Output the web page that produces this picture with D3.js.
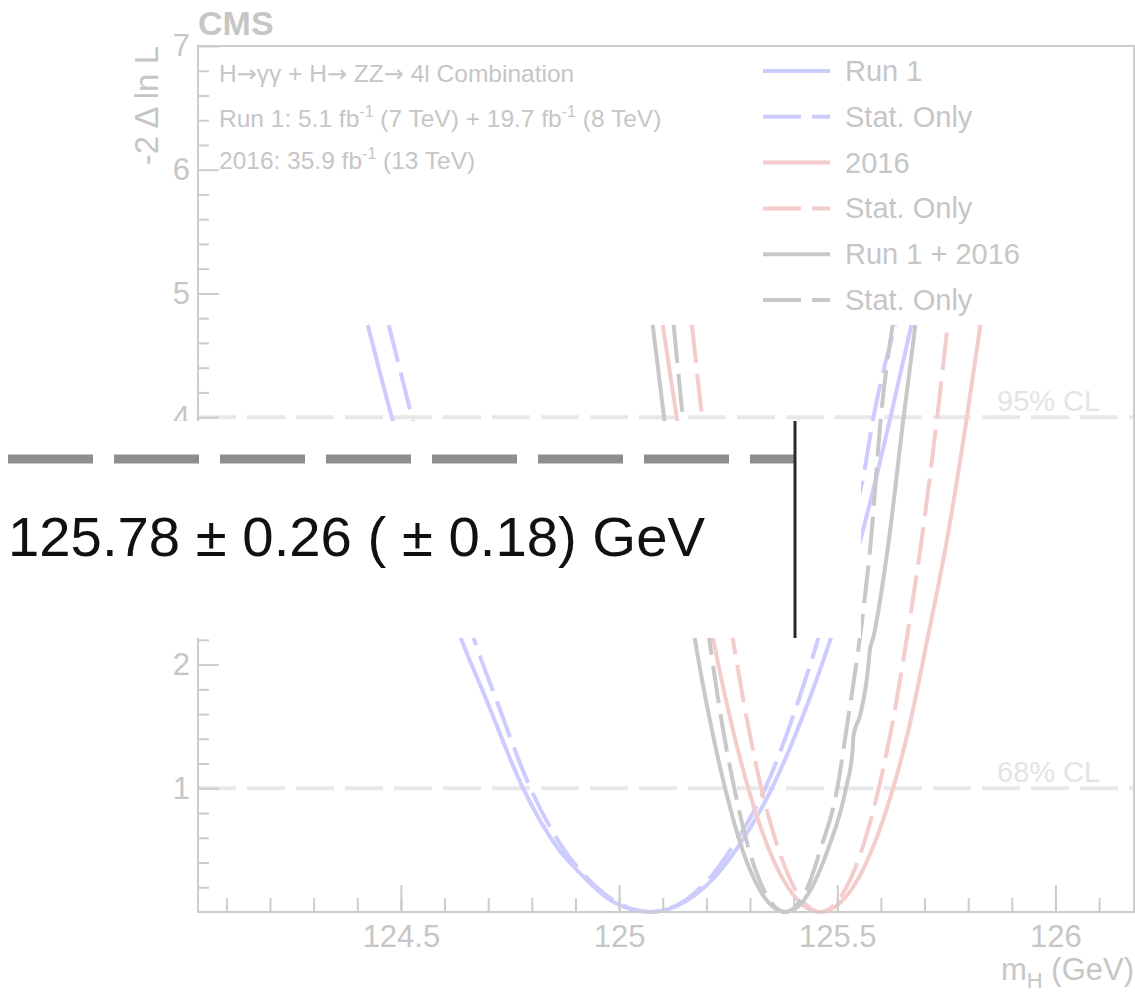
<!DOCTYPE html>
<html>
<head>
<meta charset="utf-8">
<title>mH likelihood scan</title>
<script src="https://d3js.org/d3.v7.min.js"></script>
<style>
  body { margin: 0; background: #fff; }
  svg { font-family: 'Liberation Sans', Arial, sans-serif; }
</style>
</head>
<body>
<svg width="1135" height="994"></svg>
<script>
// likelihood scans: [mH (GeV), -2 Delta ln L]
var run1 = [
  [124.424, 4.745], [124.479, 4.0], [124.564, 3.0], [124.639, 2.2], [124.693, 1.74],
  [124.780, 1.0], [124.857, 0.528], [124.926, 0.259], [124.978, 0.1], [125.025, 0.025],
  [125.071, 0], [125.115, 0.025], [125.159, 0.1], [125.213, 0.259], [125.273, 0.528],
  [125.350, 1.0], [125.438, 1.74], [125.484, 2.2], [125.557, 3.06], [125.622, 4.0], [125.670, 4.745]
];
var run1Stat = [
  [124.472, 4.745], [124.525, 4.0], [124.596, 3.0], [124.672, 2.158], [124.716, 1.74],
  [124.797, 1.0], [124.869, 0.528], [124.931, 0.259], [124.985, 0.1], [125.029, 0.025],
  [125.072, 0], [125.113, 0.025], [125.154, 0.1], [125.204, 0.259], [125.260, 0.528],
  [125.335, 1.0], [125.414, 1.74], [125.453, 2.17], [125.520, 3.0], [125.557, 3.47],
  [125.583, 4.0], [125.633, 4.745]
];
var y2016 = [
  [125.100, 4.745], [125.132, 4.0], [125.175, 3.0], [125.216, 2.2], [125.259, 1.5],
  [125.296, 1.0], [125.344, 0.5], [125.387, 0.2], [125.424, 0.05], [125.461, 0],
  [125.498, 0.05], [125.536, 0.2], [125.579, 0.5], [125.628, 1.0], [125.665, 1.5],
  [125.707, 2.213], [125.751, 3.0], [125.797, 4.0], [125.828, 4.745]
];
var y2016Stat = [
  [125.167, 4.745], [125.190, 4.0], [125.227, 3.0], [125.261, 2.2], [125.296, 1.5],
  [125.326, 1.0], [125.366, 0.5], [125.401, 0.2], [125.431, 0.05], [125.461, 0],
  [125.491, 0.05], [125.521, 0.2], [125.556, 0.5], [125.595, 1.0], [125.625, 1.5],
  [125.660, 2.226], [125.693, 3.0], [125.729, 4.0], [125.753, 4.745]
];
var comb = [
  [125.077, 4.745], [125.103, 4.0], [125.140, 3.0], [125.174, 2.2], [125.211, 1.5],
  [125.243, 1.0], [125.283, 0.5], [125.319, 0.2], [125.350, 0.05], [125.381, 0],
  [125.412, 0.05], [125.442, 0.2], [125.478, 0.5], [125.520, 1.0], [125.535, 1.3],
  [125.537, 1.42], [125.553, 1.6], [125.572, 2.02], [125.574, 2.1], [125.583, 2.226],
  [125.618, 3.0], [125.652, 4.0], [125.679, 4.745]
];
var combStat = [
  [125.125, 4.745], [125.146, 4.0], [125.178, 3.0], [125.207, 2.2], [125.237, 1.5],
  [125.264, 1.0], [125.298, 0.5], [125.329, 0.2], [125.355, 0.05], [125.381, 0],
  [125.406, 0.05], [125.432, 0.2], [125.461, 0.5], [125.500, 1.0], [125.522, 1.5],
  [125.557, 2.36], [125.577, 3.0], [125.600, 4.0], [125.627, 4.745]
];

var seriesNames = ["Run 1", "Stat. Only", "2016", "Stat. Only", "Run 1 + 2016", "Stat. Only"];
var xTicks = [124.5, 125, 125.5, 126];
var yTicks = [1, 2, 4, 5, 6, 7];   // 3 sits under the result inset
var clLevels = [1, 4];
var clNames = ["68% CL", "95% CL"];
var result = "125.78 \u00b1 0.26 ( \u00b1 0.18) GeV";

var svg = d3.select("svg");
var frameL = 198, frameR = 1134, frameT = 46, frameB = 912;

var x = d3.scaleLinear().domain([124.035, 126.18]).range([frameL, frameR]);
var y = d3.scaleLinear().domain([0, 7]).range([frameB, frameT]);

var axisCol = "#cccccc", textCol = "#c6c6c6";

// confidence level lines
clLevels.forEach(function (v, i) {
  svg.append("line")
    .attr("x1", frameL).attr("x2", frameR)
    .attr("y1", y(v)).attr("y2", y(v))
    .attr("stroke", "#e8e8e8").attr("stroke-width", 4)
    .attr("stroke-dasharray", "38,11");
  svg.append("text")
    .attr("x", 997).attr("y", y(v) - 6)
    .attr("font-size", 29).attr("fill", "#e4e4e4")
    .text(clNames[i]);
});

// scan curves
var line = d3.line()
  .x(function (d) { return x(d[0]); })
  .y(function (d) { return y(d[1]); })
  .curve(d3.curveMonotoneX);

var curves = [
  { data: run1, color: "#ccccff", dash: null },
  { data: run1Stat, color: "#ccccff", dash: "38,11" },
  { data: y2016, color: "#f5cccc", dash: null },
  { data: y2016Stat, color: "#f5cccc", dash: "38,11" },
  { data: comb, color: "#c8c8c8", dash: null },
  { data: combStat, color: "#c8c8c8", dash: "38,11" }
];

svg.append("g").selectAll("path")
  .data(curves)
  .enter().append("path")
  .attr("d", function (d) { return line(d.data); })
  .attr("fill", "none")
  .attr("stroke", function (d) { return d.color; })
  .attr("stroke-width", 4)
  .attr("stroke-dasharray", function (d) { return d.dash; });

// axes, ticks pointing inwards
var xMinor = d3.range(1241, 1262).map(function (v) { return v / 10; });
var yMinor = d3.range(1, 35).map(function (v) { return v / 5; }).filter(function (v) { return v % 1 !== 0; });

var gx = svg.append("g").attr("transform", "translate(0," + frameB + ")");
gx.append("g").call(d3.axisBottom(x).tickValues(xMinor).tickSize(-14).tickFormat(""));
gx.append("g").call(d3.axisBottom(x).tickValues(xTicks).tickSize(-27).tickPadding(13)
  .tickFormat(function (d) { return String(d); }));

var gy = svg.append("g").attr("transform", "translate(" + frameL + ",0)");
gy.append("g").call(d3.axisLeft(y).tickValues(yMinor).tickSize(-11).tickFormat(""));
gy.append("g").call(d3.axisLeft(y).tickValues(yTicks).tickSize(-21).tickPadding(8)
  .tickFormat(function (d) { return String(d); }));

svg.selectAll(".domain").remove();
svg.selectAll(".tick line").attr("stroke", axisCol).attr("stroke-width", 2);
svg.selectAll(".tick text").attr("fill", textCol).attr("font-size", 31)
  .attr("font-family", "'Liberation Sans', Arial, sans-serif");

// frame
svg.append("rect")
  .attr("x", frameL).attr("y", frameT)
  .attr("width", frameR - frameL).attr("height", frameB - frameT)
  .attr("fill", "none").attr("stroke", axisCol).attr("stroke-width", 2);

// axis titles
var xt = svg.append("text")
  .attr("x", frameR).attr("y", 980).attr("text-anchor", "end")
  .attr("font-size", 31).attr("fill", textCol);
xt.append("tspan").text("m");
xt.append("tspan").attr("font-size", 22).attr("dy", 8).text("H");
xt.append("tspan").attr("dy", -8).text(" (GeV)");

svg.append("text")
  .attr("transform", "translate(158," + frameT + ") rotate(-90)")
  .attr("text-anchor", "end")
  .attr("font-size", 33).attr("fill", textCol)
  .text("-2 \u0394 ln L");

svg.append("text")
  .attr("x", frameL).attr("y", 35)
  .attr("font-size", 34).attr("font-weight", "bold").attr("fill", textCol)
  .text("CMS");

// analysis labels
var info = svg.append("g").attr("fill", textCol).attr("font-size", 24.5);
var l1 = info.append("text").attr("x", 219).attr("y", 82);
[["H", false], ["\u2192", true], ["\u03b3\u03b3 + H", false], ["\u2192", true],
 [" ZZ", false], ["\u2192", true], [" 4l Combination", false]].forEach(function (p) {
  var t = l1.append("tspan").text(p[0]);
  if (p[1]) t.attr("font-family", "'DejaVu Sans', sans-serif").attr("font-size", 24);
});
var l2 = info.append("text").attr("x", 219).attr("y", 127);
l2.append("tspan").text("Run 1: 5.1 fb");
l2.append("tspan").attr("font-size", 16).attr("dy", -10).text("-1");
l2.append("tspan").attr("dy", 10).text(" (7 TeV) + 19.7 fb");
l2.append("tspan").attr("font-size", 16).attr("dy", -10).text("-1");
l2.append("tspan").attr("dy", 10).text(" (8 TeV)");
var l3 = info.append("text").attr("x", 219).attr("y", 169);
l3.append("tspan").text("2016: 35.9 fb");
l3.append("tspan").attr("font-size", 16).attr("dy", -10).text("-1");
l3.append("tspan").attr("dy", 10).text(" (13 TeV)");

// legend
var legend = svg.append("g").selectAll("g")
  .data(curves)
  .enter().append("g")
  .attr("transform", function (d, i) { return "translate(763," + (71 + i * 45.8) + ")"; });
legend.append("line")
  .attr("x1", 0).attr("x2", 67)
  .attr("stroke", function (d) { return d.color; })
  .attr("stroke-width", 4)
  .attr("stroke-dasharray", function (d) { return d.dash; });
legend.append("text")
  .attr("x", 82).attr("y", 10)
  .attr("font-size", 29).attr("fill", textCol)
  .text(function (d, i) { return seriesNames[i]; });

// result inset
var inset = svg.append("g");
inset.append("rect")
  .attr("x", 0).attr("y", 421).attr("width", 861).attr("height", 217)
  .attr("fill", "#fff");
inset.append("line")
  .attr("x1", 8).attr("x2", 795).attr("y1", 459).attr("y2", 459)
  .attr("stroke", "#8e8e8e").attr("stroke-width", 9)
  .attr("stroke-dasharray", "85,21");
inset.append("line")
  .attr("x1", 795).attr("x2", 795).attr("y1", 421).attr("y2", 638)
  .attr("stroke", "#2a2a2a").attr("stroke-width", 3);
inset.append("text")
  .attr("x", 8).attr("y", 556)
  .attr("font-size", 56).attr("fill", "#111")
  .attr("textLength", 697).attr("lengthAdjust", "spacingAndGlyphs")
  .text(result);
</script>
</body>
</html>
